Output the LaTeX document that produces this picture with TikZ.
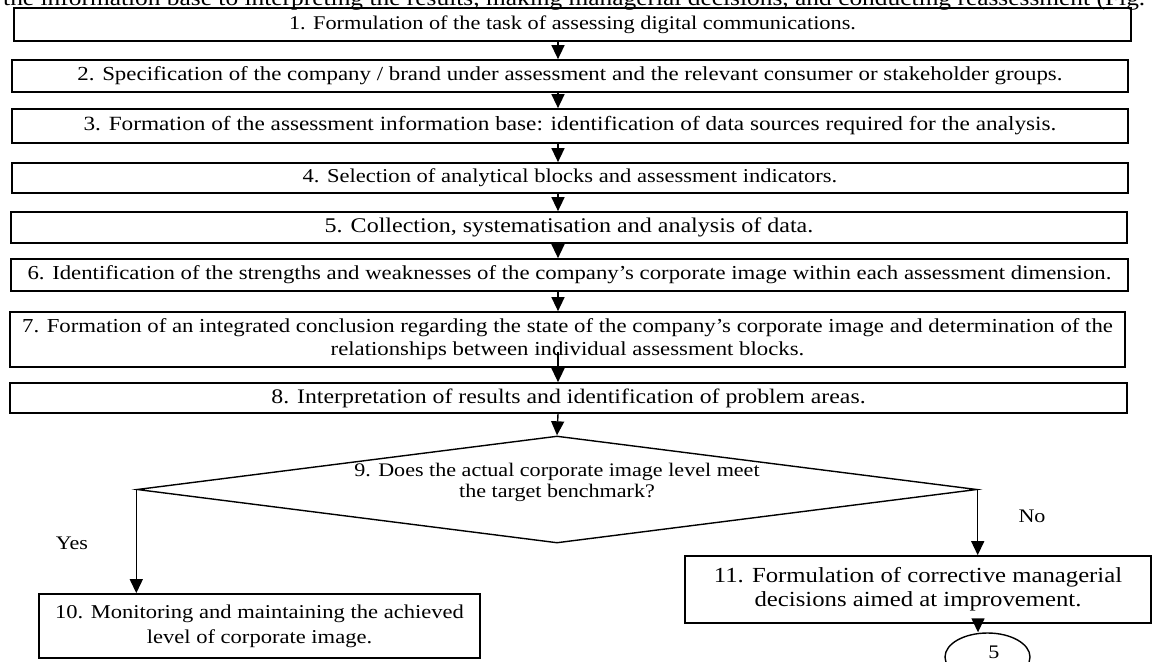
\documentclass[tikz,border=0pt]{standalone}
\usepackage{fontspec}
\setmainfont[FakeStretch=1.15]{Liberation Serif}
\usetikzlibrary{arrows.meta,shapes.geometric}

\begin{document}
\begin{tikzpicture}[x=1pt,y=-1pt,
  stage/.style={draw, line width=1.7pt, inner sep=0pt, align=center,
    font=\fontsize{20.2}{23}\selectfont},
  decision/.style={draw, diamond, line width=1.4pt, inner sep=0pt},
  connector/.style={draw, ellipse, line width=1.4pt, inner sep=0pt},
  flow/.style={line width=1.4pt, -{Triangle[width=13pt,length=14pt]}},
  txt/.style={inner sep=0pt, align=center, font=\fontsize{19.2}{21.5}\selectfont}]

\useasboundingbox (0,0) rectangle (1155,661);

% running text of the page, cut by the top edge
\node[anchor=base west, inner sep=0pt, font=\fontsize{22.1}{27}\selectfont] (intro) at (3,6)
  {the information base to interpreting the results, making managerial decisions, and conducting reassessment (Fig.};

% main column of stages
\coordinate (col) at (558,0);
\node[stage, minimum width=1117pt, minimum height=33pt, font=\fontsize{19.4}{23}\selectfont] (s1) at (572.5,24.5)
  {1. Formulation of the task of assessing digital communications.};
\node[stage, minimum width=1116pt, minimum height=32pt, font=\fontsize{19.9}{23}\selectfont] (s2) at (570,76)
  {2. Specification of the company / brand under assessment and the relevant consumer or stakeholder groups.};
\node[stage, minimum width=1116pt, minimum height=34pt] (s3) at (570,126)
  {3. Formation of the assessment information base: identification of data sources required for the analysis.};
\node[stage, minimum width=1116pt, minimum height=30pt, font=\fontsize{19.6}{23}\selectfont] (s4) at (570,178)
  {4. Selection of analytical blocks and assessment indicators.};
\node[stage, minimum width=1116pt, minimum height=31pt, font=\fontsize{20.9}{23}\selectfont] (s5) at (569,227.5)
  {5. Collection, systematisation and analysis of data.};
\node[stage, minimum width=1117pt, minimum height=32pt, font=\fontsize{19.8}{23}\selectfont] (s6) at (569.5,275)
  {6. Identification of the strengths and weaknesses of the company’s corporate image within each assessment dimension.};
\node[stage, minimum width=1115pt, minimum height=55pt, font=\fontsize{19.8}{23}\selectfont] (s7) at (567.5,339.5)
  {7. Formation of an integrated conclusion regarding the state of the company’s corporate image and determination of the\\
   relationships between individual assessment blocks.};
\node[stage, minimum width=1117pt, minimum height=30pt, font=\fontsize{20.7}{23}\selectfont] (s8) at (568.5,398)
  {8. Interpretation of results and identification of problem areas.};

% decision
\node[decision, minimum width=840pt, minimum height=107pt] (d9) at (557,489.5) {};
\node[txt] (q9) at (557,482.5)
  {9. Does the actual corporate image level meet\\the target benchmark?};

% outcomes
\node[stage, minimum width=441pt, minimum height=64pt, font=\fontsize{19.6}{25}\selectfont] (s10) at (259.5,626)
  {10. Monitoring and maintaining the achieved\\level of corporate image.};
\node[stage, minimum width=466pt, minimum height=67pt, font=\fontsize{21.5}{24}\selectfont] (s11) at (918,589.5)
  {11. Formulation of corrective managerial\\decisions aimed at improvement.};

% off-page connector back to stage 5
\node[connector, minimum width=85pt, minimum height=48pt] (c5) at (987.5,657) {};
\node[txt] (n5) at (994,652) {5};
\coordinate (ret) at (978,0);

% branch labels
\node[txt] (yes) at (72,543) {Yes};
\node[txt] (no) at (1032,516) {No};

% connectors
\draw[flow] (s1.south -| col) -- (s2.north -| col);
\draw[flow] (s2.south -| col) -- (s3.north -| col);
\draw[flow] (s3.south -| col) -- (s4.north -| col);
\draw[flow] (s4.south -| col) -- (s5.north -| col);
\draw[flow] (s5.south -| col) -- (s6.north -| col);
\draw[flow] (s6.south -| col) -- (s7.north -| col);
\coordinate (j7) at (558,352);
\draw[flow] (j7) -- (s8.north -| col);
\draw[flow] (s8.south -| col) -- (d9.north);
\draw[flow] (d9.west) -- (d9.west |- s10.north);
\draw[flow] (d9.east) -- (d9.east |- s11.north);
\draw[flow] (s11.south -| ret) -- (c5.north -| ret);
\end{tikzpicture}
\end{document}
